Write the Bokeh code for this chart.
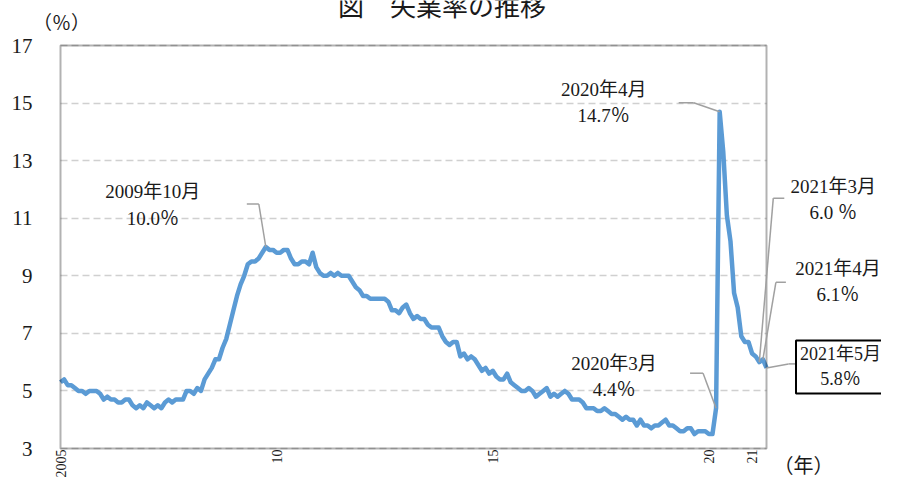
import math
from bokeh.plotting import figure
from bokeh.models import FixedTicker, Label, Arrow, Range1d, BoxAnnotation
from bokeh.embed import file_html
from bokeh.resources import INLINE

# ---- data: monthly unemployment rate (%) Jan 2005 - May 2021 ----
u2005 = [5.3, 5.4, 5.2, 5.2, 5.1, 5.0, 5.0, 4.9, 5.0, 5.0, 5.0, 4.9]
u2006 = [4.7, 4.8, 4.7, 4.7, 4.6, 4.6, 4.7, 4.7, 4.5, 4.4, 4.5, 4.4]
u2007 = [4.6, 4.5, 4.4, 4.5, 4.4, 4.6, 4.7, 4.6, 4.7, 4.7, 4.7, 5.0]
u2008 = [5.0, 4.9, 5.1, 5.0, 5.4, 5.6, 5.8, 6.1, 6.1, 6.5, 6.8, 7.3]
u2009 = [7.8, 8.3, 8.7, 9.0, 9.4, 9.5, 9.5, 9.6, 9.8, 10.0, 9.9, 9.9]
u2010 = [9.8, 9.8, 9.9, 9.9, 9.6, 9.4, 9.4, 9.5, 9.5, 9.4, 9.8, 9.3]
u2011 = [9.1, 9.0, 9.0, 9.1, 9.0, 9.1, 9.0, 9.0, 9.0, 8.8, 8.6, 8.5]
u2012 = [8.3, 8.3, 8.2, 8.2, 8.2, 8.2, 8.2, 8.1, 7.8, 7.8, 7.7, 7.9]
u2013 = [8.0, 7.7, 7.5, 7.6, 7.5, 7.5, 7.3, 7.2, 7.2, 7.2, 6.9, 6.7]
u2014 = [6.6, 6.7, 6.7, 6.2, 6.3, 6.1, 6.2, 6.1, 5.9, 5.7, 5.8, 5.6]
u2015 = [5.7, 5.5, 5.4, 5.4, 5.6, 5.3, 5.2, 5.1, 5.0, 5.0, 5.1, 5.0]
u2016 = [4.8, 4.9, 5.0, 5.1, 4.8, 4.9, 4.8, 4.9, 5.0, 4.9, 4.7, 4.7]
u2017 = [4.7, 4.6, 4.4, 4.4, 4.4, 4.3, 4.3, 4.4, 4.3, 4.2, 4.2, 4.1]
u2018 = [4.0, 4.1, 4.0, 4.0, 3.8, 4.0, 3.8, 3.8, 3.7, 3.8, 3.8, 3.9]
u2019 = [4.0, 3.8, 3.8, 3.7, 3.6, 3.6, 3.7, 3.7, 3.5, 3.6, 3.6, 3.6]
u2020 = [3.5, 3.5, 4.4, 14.7, 13.3, 11.1, 10.2, 8.4, 7.9, 6.9, 6.7, 6.7]
u2021 = [6.3, 6.2, 6.0, 6.1, 5.8]

rate = (u2005 + u2006 + u2007 + u2008 + u2009 + u2010 + u2011 + u2012 +
        u2013 + u2014 + u2015 + u2016 + u2017 + u2018 + u2019 + u2020 + u2021)
month_idx = list(range(len(rate)))

year_tick_pos = [0, 60, 120, 180, 192]
year_tick_labels = ["2005", "10", "15", "20", "21"]
y_ticks = [3, 5, 7, 9, 11, 13, 15, 17]

annot_idx = [57, 182, 183, 194, 195, 196]
annot_month = ["2009年10月", "2020年3月", "2020年4月", "2021年3月", "2021年4月", "2021年5月"]
annot_sep = ["", "", "", " ", "", ""]

# ---- layout (pixels on the canvas) ----
W, H = 881, 477
BOX_L, BOX_R, BOX_T, BOX_B = 60, 766, 45, 448
XMIN, XMAX = 0, len(rate) - 1
YMIN, YMAX = y_ticks[0], y_ticks[-1]
SX = (BOX_R - BOX_L) / (XMAX - XMIN)   # px per month
SY = (BOX_B - BOX_T) / (YMAX - YMIN)   # px per point

SERIF = "'Liberation Serif', 'Noto Sans CJK JP'"
CJK = "'Noto Sans CJK JP'"
INK = "#1a1a1a"

x_range = Range1d(XMIN - BOX_L / SX, XMAX + (W - BOX_R) / SX)
y_range = Range1d(YMIN - (H - BOX_B) / SY, YMAX + BOX_T / SY)

p = figure(width=W, height=H, output_backend="svg", toolbar_location=None,
           x_range=x_range, y_range=y_range, min_border=0)
p.background_fill_color = "white"
p.border_fill_color = "white"
p.outline_line_color = None

# grid
p.xgrid.grid_line_color = None
g = p.ygrid[0]
g.ticker = FixedTicker(ticks=y_ticks)
g.grid_line_color = "#D0D0D0"
g.grid_line_dash = "7 4"
g.grid_line_width = 1.5
if "cross_bounds" in g.properties():
    g.cross_bounds = (XMIN, XMAX)
else:
    g.grid_line_color = None
    p.segment(x0=XMIN, x1=XMAX, y0=y_ticks[1:-1], y1=y_ticks[1:-1],
              line_color="#D0D0D0", line_dash="7 4", line_width=1.5)

# axes, placed at the edges of the plot box
p.yaxis.fixed_location = XMIN
p.yaxis.bounds = (YMIN, YMAX)
p.yaxis.ticker = FixedTicker(ticks=y_ticks)
p.yaxis.axis_line_color = None
p.yaxis.major_tick_line_color = None
p.yaxis.minor_tick_line_color = None
p.yaxis.major_tick_out = 0
p.yaxis.major_tick_in = 0
p.yaxis.major_label_standoff = 28
p.yaxis.major_label_text_font = SERIF
p.yaxis.major_label_text_font_size = "21px"
p.yaxis.major_label_text_color = INK

p.xaxis.fixed_location = YMIN
p.xaxis.bounds = (XMIN, XMAX)
p.xaxis.ticker = FixedTicker(ticks=year_tick_pos)
p.xaxis.major_label_overrides = dict(zip(year_tick_pos, year_tick_labels))
p.xaxis.major_label_orientation = math.pi / 2
p.xaxis.axis_line_color = None
p.xaxis.major_tick_line_color = None
p.xaxis.minor_tick_line_color = None
p.xaxis.major_tick_out = 0
p.xaxis.major_tick_in = 0
p.xaxis.major_label_standoff = 1
p.xaxis.major_label_text_font = SERIF
p.xaxis.major_label_text_font_size = "14px"
p.xaxis.major_label_text_color = INK

p.line(month_idx, rate, line_color="#5B9BD5", line_width=4.5, line_join="round")

# plot box border
p.add_layout(BoxAnnotation(left=XMIN, right=XMAX, bottom=YMIN, top=YMAX,
                           fill_color=None, line_color="black", line_width=2))


def dpos(idx, val, dx, dy):
    """data position offset by (dx, dy) screen pixels (dy downward)"""
    return idx + dx / SX, val - dy / SY


# text offsets from the data point (px) and leader paths (px)
text_off = [(-113, -42), (-102, -32), (-116, -9), (74, -163), (75, -78), (74, -1)]
text_size = ["19px", "19px", "19px", "19px", "19px", "18px"]
leader_off = [
    [(-19, -43), (-7, -43), (0, 0)],
    [(-26, -35), (-13, -35), (0, 0)],
    [(-41, -9), (-26, -9), (0, 0)],
    [(25, -164), (14, -164), (0, 0)],
    [(23, -77), (13, -77), (0, 0)],
    [(0, 0), (22, -4), (30, -4)],
]

for k, i in enumerate(annot_idx):
    v = rate[i]
    pts = [dpos(i, v, dx, dy) for dx, dy in leader_off[k]]
    for a, b in zip(pts[:-1], pts[1:]):
        p.add_layout(Arrow(end=None, x_start=a[0], y_start=a[1], x_end=b[0], y_end=b[1],
                           line_color="#A0A0A0", line_width=1.5))
for k, i in enumerate(annot_idx):
    v = rate[i]
    tx, ty = dpos(i, v, *text_off[k])
    txt = f"{annot_month[k]}\n{v:.1f}{annot_sep[k]}％"
    kw = {}
    if k == len(annot_idx) - 1:
        kw = dict(border_line_color="black", border_line_width=2,
                  background_fill_color="white", padding=4)
    p.add_layout(Label(x=tx, y=ty, text=txt, text_align="center", text_baseline="middle",
                       text_font=SERIF, text_font_size=text_size[k], text_color=INK,
                       text_line_height=1.25, **kw))

# title, unit labels
tx, ty = dpos(XMIN, YMIN, 441.5 - BOX_L, 4 - BOX_B)
p.add_layout(Label(x=tx, y=ty, text="図　失業率の推移", text_align="center",
                   text_baseline="alphabetic", text_font=CJK, text_font_size="26px",
                   text_color=INK))
tx, ty = dpos(XMIN, YMIN, 61 - BOX_L, 23 - BOX_B)
p.add_layout(Label(x=tx, y=ty, text="（％）", text_align="center", text_baseline="middle",
                   text_font=SERIF, text_font_size="19px", text_color=INK))
tx, ty = dpos(XMIN, YMIN, 803 - BOX_L, 465 - BOX_B)
p.add_layout(Label(x=tx, y=ty, text="（年）", text_align="center", text_baseline="middle",
                   text_font=SERIF, text_font_size="20px", text_color=INK))

open("out.html", "w").write(file_html(p, INLINE))
